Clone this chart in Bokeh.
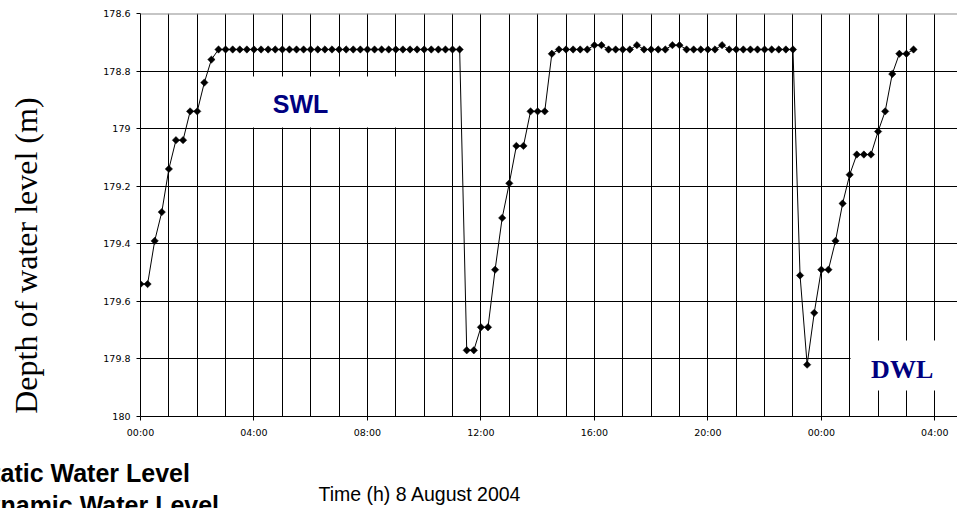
from math import pi
from bokeh.plotting import figure
from bokeh.layouts import column
from bokeh.core.properties import value
from bokeh.models import Range1d, FixedTicker, Label, BoxAnnotation, Span
from bokeh.embed import file_html
from bokeh.resources import INLINE

# ---- data (time in hours from 00:00 on 8 August 2004, 15-minute readings) ----
hours = [
    0.0, 0.25, 0.5, 0.75, 1.0, 1.25, 1.5, 1.75, 2.0, 2.25, 2.5, 2.75,
    3.0, 3.25, 3.5, 3.75, 4.0, 4.25, 4.5, 4.75, 5.0, 5.25, 5.5, 5.75,
    6.0, 6.25, 6.5, 6.75, 7.0, 7.25, 7.5, 7.75, 8.0, 8.25, 8.5, 8.75,
    9.0, 9.25, 9.5, 9.75, 10.0, 10.25, 10.5, 10.75, 11.0, 11.25, 11.5, 11.75,
    12.0, 12.25, 12.5, 12.75, 13.0, 13.25, 13.5, 13.75, 14.0, 14.25, 14.5, 14.75,
    15.0, 15.25, 15.5, 15.75, 16.0, 16.25, 16.5, 16.75, 17.0, 17.25, 17.5, 17.75,
    18.0, 18.25, 18.5, 18.75, 19.0, 19.25, 19.5, 19.75, 20.0, 20.25, 20.5, 20.75,
    21.0, 21.25, 21.5, 21.75, 22.0, 22.25, 22.5, 22.75, 23.0, 23.25, 23.5, 23.75,
    24.0, 24.25, 24.5, 24.75, 25.0, 25.25, 25.5, 25.75, 26.0, 26.25, 26.5, 26.75,
    27.0, 27.25,
]
depth = [
    179.54, 179.54, 179.39, 179.29, 179.14, 179.04, 179.04, 178.94, 178.94, 178.84, 178.76, 178.725,
    178.725, 178.725, 178.725, 178.725, 178.725, 178.725, 178.725, 178.725, 178.725, 178.725, 178.725, 178.725,
    178.725, 178.725, 178.725, 178.725, 178.725, 178.725, 178.725, 178.725, 178.725, 178.725, 178.725, 178.725,
    178.725, 178.725, 178.725, 178.725, 178.725, 178.725, 178.725, 178.725, 178.725, 178.725, 179.77, 179.77,
    179.69, 179.69, 179.49, 179.31, 179.19, 179.06, 179.06, 178.94, 178.94, 178.94, 178.74, 178.725,
    178.725, 178.725, 178.725, 178.725, 178.71, 178.71, 178.725, 178.725, 178.725, 178.725, 178.71, 178.725,
    178.725, 178.725, 178.725, 178.71, 178.71, 178.725, 178.725, 178.725, 178.725, 178.725, 178.71, 178.725,
    178.725, 178.725, 178.725, 178.725, 178.725, 178.725, 178.725, 178.725, 178.725, 179.51, 179.82, 179.64,
    179.49, 179.49, 179.39, 179.26, 179.16, 179.09, 179.09, 179.09, 179.01, 178.94, 178.81, 178.74,
    178.74, 178.725,
]

y_ticks = [178.6, 178.8, 179.0, 179.2, 179.4, 179.6, 179.8, 180.0]
y_tick_labels = ["178.6", "178.8", "179", "179.2", "179.4", "179.6", "179.8", "180"]
x_ticks = [0, 4, 8, 12, 16, 20, 24, 28]
x_tick_labels = ["00:00", "04:00", "08:00", "12:00", "16:00", "20:00", "00:00", "04:00"]
grid_hours = list(range(0, 29))

y_title = "Depth of water level (m)"
x_title = "Time (h) 8 August 2004"
captions = ["Static Water Level", "Dynamic Water Level"]

FONT = "Liberation Sans"
SERIF = "Liberation Serif"
TICK_FONT = "DejaVu Sans"

# ---------------- main chart ----------------
fig = figure(
    width=957, height=440,
    x_range=Range1d(0, 28.8), y_range=Range1d(180, 178.6),
    output_backend="svg", toolbar_location=None, title=None,
    min_border_left=140, min_border_right=0, min_border_top=13, min_border_bottom=24,
)
fig.outline_line_color = None
fig.background_fill_color = "white"
fig.border_fill_color = "white"

fig.xaxis.ticker = FixedTicker(ticks=x_ticks)
fig.xaxis.major_label_overrides = dict(zip(x_ticks, x_tick_labels))
fig.yaxis.ticker = FixedTicker(ticks=y_ticks)
fig.yaxis.major_label_overrides = dict(zip(y_ticks, y_tick_labels))
for ax in (fig.xaxis, fig.yaxis):
    ax.axis_line_color = "black"
    ax.axis_line_width = 1
    ax.major_tick_line_color = "black"
    ax.major_tick_in = 0
    ax.major_tick_out = 4
    ax.minor_tick_line_color = None
    ax.major_label_text_font = TICK_FONT
    ax.major_label_text_font_size = "9.5px"
    ax.major_label_text_color = "black"
fig.xaxis.major_label_standoff = 6
fig.yaxis.major_label_standoff = 6

fig.xgrid.ticker = FixedTicker(ticks=grid_hours)
fig.ygrid.ticker = FixedTicker(ticks=y_ticks)
fig.grid.grid_line_color = "black"
fig.grid.grid_line_width = 1

# top border of plot area
fig.add_layout(Span(location=178.6, dimension="width", line_color="#8c8c8c", line_width=2))

# white label boxes
fig.add_layout(BoxAnnotation(left=3.03, right=9.09, top=178.819, bottom=178.996,
                             fill_color="white", fill_alpha=1, line_color=None))
fig.add_layout(BoxAnnotation(left=25.03, right=29.0, top=179.736, bottom=179.91,
                             fill_color="white", fill_alpha=1, line_color=None))

# series
fig.line(hours, depth, line_color="black", line_width=1)
fig.scatter(hours, depth, marker="square", angle=pi / 4, size=5.2,
            fill_color="black", line_color="black", line_width=0.5)

# in-plot labels
fig.add_layout(Label(x=5.64, y=178.914, text="SWL", text_font=FONT, text_font_style="bold",
                     text_font_size="25px", text_color="#000080", text_align="center", text_baseline="middle"))
fig.add_layout(Label(x=26.85, y=179.837, text="DWL", text_font=SERIF, text_font_style="bold",
                     text_font_size="26px", text_color="#000080", text_align="center", text_baseline="middle"))

# y-axis title (in the left panel so that it is not clipped to the plot area)
fig.add_layout(Label(x=-4.02, y=179.441, text=y_title, angle=pi / 2,
                     text_font=SERIF, text_font_size="32px", text_color="black",
                     text_align="center", text_baseline="middle"), "left")

# ---------------- strip below the chart: captions and x-axis title ----------------
strip = figure(
    width=957, height=68,
    x_range=Range1d(0, 957), y_range=Range1d(68, 0),
    output_backend="svg", toolbar_location=None, title=None,
    x_axis_location=None, y_axis_location=None, min_border=0,
)
strip.outline_line_color = None
strip.grid.visible = False
strip.background_fill_color = "white"
strip.border_fill_color = "white"

# keep each figure's own frame (no frame alignment between the two)
for f in (fig, strip):
    if "frame_align" in f.properties():
        f.frame_align = False

strip.text(x=[-25, -32], y=[32.7, 64], text=captions, text_font=value(FONT), text_font_style="bold",
           text_font_size="25px", text_color="black", text_align="left", text_baseline="alphabetic")
strip.text(x=[318], y=[53], text=[x_title], text_font=value(FONT), text_font_size="19.5px",
           text_color="black", text_align="left", text_baseline="alphabetic")

p = column(fig, strip, spacing=0)

open("out.html", "w").write(file_html(p, INLINE))
